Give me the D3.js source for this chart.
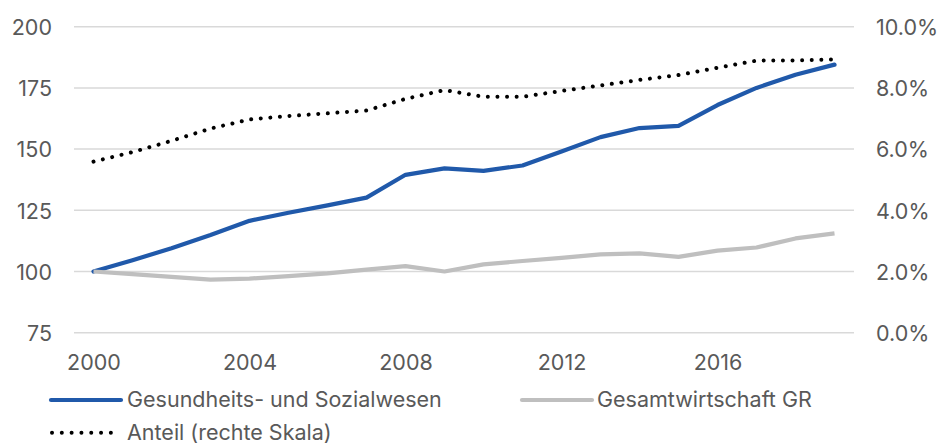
<!DOCTYPE html>
<html>
<head>
<meta charset="utf-8">
<script src="https://cdn.jsdelivr.net/npm/d3@7"></script>
<style>
  html, body { margin: 0; padding: 0; background: #fff; }
  svg text { font-family: Inter, "Liberation Sans", sans-serif; fill: #595959; }
</style>
</head>
<body>
<svg id="chart" width="942" height="443"></svg>
<script>
const years = [2000,2001,2002,2003,2004,2005,2006,2007,2008,2009,2010,2011,2012,2013,2014,2015,2016,2017,2018,2019];
const health = [100,104.6,109.5,114.9,120.7,124.0,127.0,130.2,139.5,142.1,141.1,143.3,149.0,154.9,158.6,159.5,168.0,175.0,180.4,184.5];
const total = [100,98.9,97.8,96.7,97.1,98.1,99.2,100.8,102.2,100.0,102.9,104.3,105.6,107.0,107.4,106.0,108.5,109.8,113.5,115.6];
const share = [5.59,5.90,6.27,6.67,6.97,7.08,7.17,7.26,7.64,7.93,7.71,7.71,7.90,8.08,8.26,8.42,8.66,8.89,8.90,8.93];
const leftTicks = [75,100,125,150,175,200];
const rightTicks = [0,2,4,6,8,10];
const xTickYears = [2000,2004,2008,2012,2016];
const seriesNames = ["Gesundheits- und Sozialwesen", "Gesamtwirtschaft GR", "Anteil (rechte Skala)"];

const svg = d3.select("#chart");
const x = d3.scalePoint().domain(years).range([74, 854]).padding(0.5);
const yL = d3.scaleLinear().domain([75, 200]).range([332.7, 26.7]);
const yR = d3.scaleLinear().domain([0, 10]).range([332.7, 26.7]);

// gridlines
svg.append("g").selectAll("line").data(leftTicks).join("line")
  .attr("x1", 74).attr("x2", 854)
  .attr("y1", d => yL(d)).attr("y2", d => yL(d))
  .attr("stroke", "#d9d9d9").attr("stroke-width", 1.5);

// left axis labels
const leftAxis = d3.axisLeft(yL).tickValues(leftTicks).tickSize(0).tickPadding(0);
const gL = svg.append("g").attr("transform", "translate(52,0)").call(leftAxis);
gL.select(".domain").remove();
gL.selectAll("text").attr("font-size", 21.5).attr("fill", "#595959")
  .attr("font-family", "Inter, 'Liberation Sans', sans-serif").attr("dy", "0.36em");

// right axis labels
const rightAxis = d3.axisRight(yR).tickValues(rightTicks).tickSize(0).tickPadding(0)
  .tickFormat(d => d.toFixed(1) + "%");
const gR = svg.append("g").attr("transform", "translate(876,0)").call(rightAxis);
gR.select(".domain").remove();
gR.selectAll("text").attr("font-size", 21.5).attr("fill", "#595959")
  .attr("font-family", "Inter, 'Liberation Sans', sans-serif").attr("dy", "0.36em");

// x axis labels
const xAxis = d3.axisBottom(x).tickValues(xTickYears).tickSize(0).tickPadding(0).tickFormat(d => String(d));
const gX = svg.append("g").attr("transform", "translate(0,355)").call(xAxis);
gX.select(".domain").remove();
gX.selectAll("text").attr("font-size", 21.5).attr("fill", "#595959")
  .attr("font-family", "Inter, 'Liberation Sans', sans-serif").attr("dy", "0.72em");

// lines
const lineL = d3.line().x((d, i) => x(years[i])).y(d => yL(d));
const lineR = d3.line().x((d, i) => x(years[i])).y(d => yR(d));

svg.append("path").datum(health).attr("d", lineL)
  .attr("fill", "none").attr("stroke", "#2059aa").attr("stroke-width", 4.2)
  .attr("stroke-linejoin", "round").attr("stroke-linecap", "round");
svg.append("path").datum(total).attr("d", lineL)
  .attr("fill", "none").attr("stroke", "#bfbfbf").attr("stroke-width", 4.2)
  .attr("stroke-linejoin", "round").attr("stroke-linecap", "butt");
svg.append("path").datum(share).attr("d", lineR)
  .attr("fill", "none").attr("stroke", "#000").attr("stroke-width", 4)
  .attr("stroke-linecap", "round").attr("stroke-dasharray", "0.01 9.6");

// legend
const lg = svg.append("g");
lg.append("line").attr("x1", 51).attr("x2", 121).attr("y1", 400).attr("y2", 400)
  .attr("stroke", "#2059aa").attr("stroke-width", 4.2).attr("stroke-linecap", "round");
lg.append("text").attr("x", 127).attr("y", 407.3).attr("font-size", 21.5).text(seriesNames[0]);
lg.append("line").attr("x1", 522).attr("x2", 592).attr("y1", 400).attr("y2", 400)
  .attr("stroke", "#bfbfbf").attr("stroke-width", 4.2).attr("stroke-linecap", "round");
lg.append("text").attr("x", 597).attr("y", 407.3).attr("font-size", 21.5).text(seriesNames[1]);
lg.append("line").attr("x1", 52).attr("x2", 112).attr("y1", 432.7).attr("y2", 432.7)
  .attr("stroke", "#000").attr("stroke-width", 4).attr("stroke-linecap", "round")
  .attr("stroke-dasharray", "0.01 9.8");
lg.append("text").attr("x", 127).attr("y", 440).attr("font-size", 21.5).text(seriesNames[2]);
</script>
</body>
</html>
